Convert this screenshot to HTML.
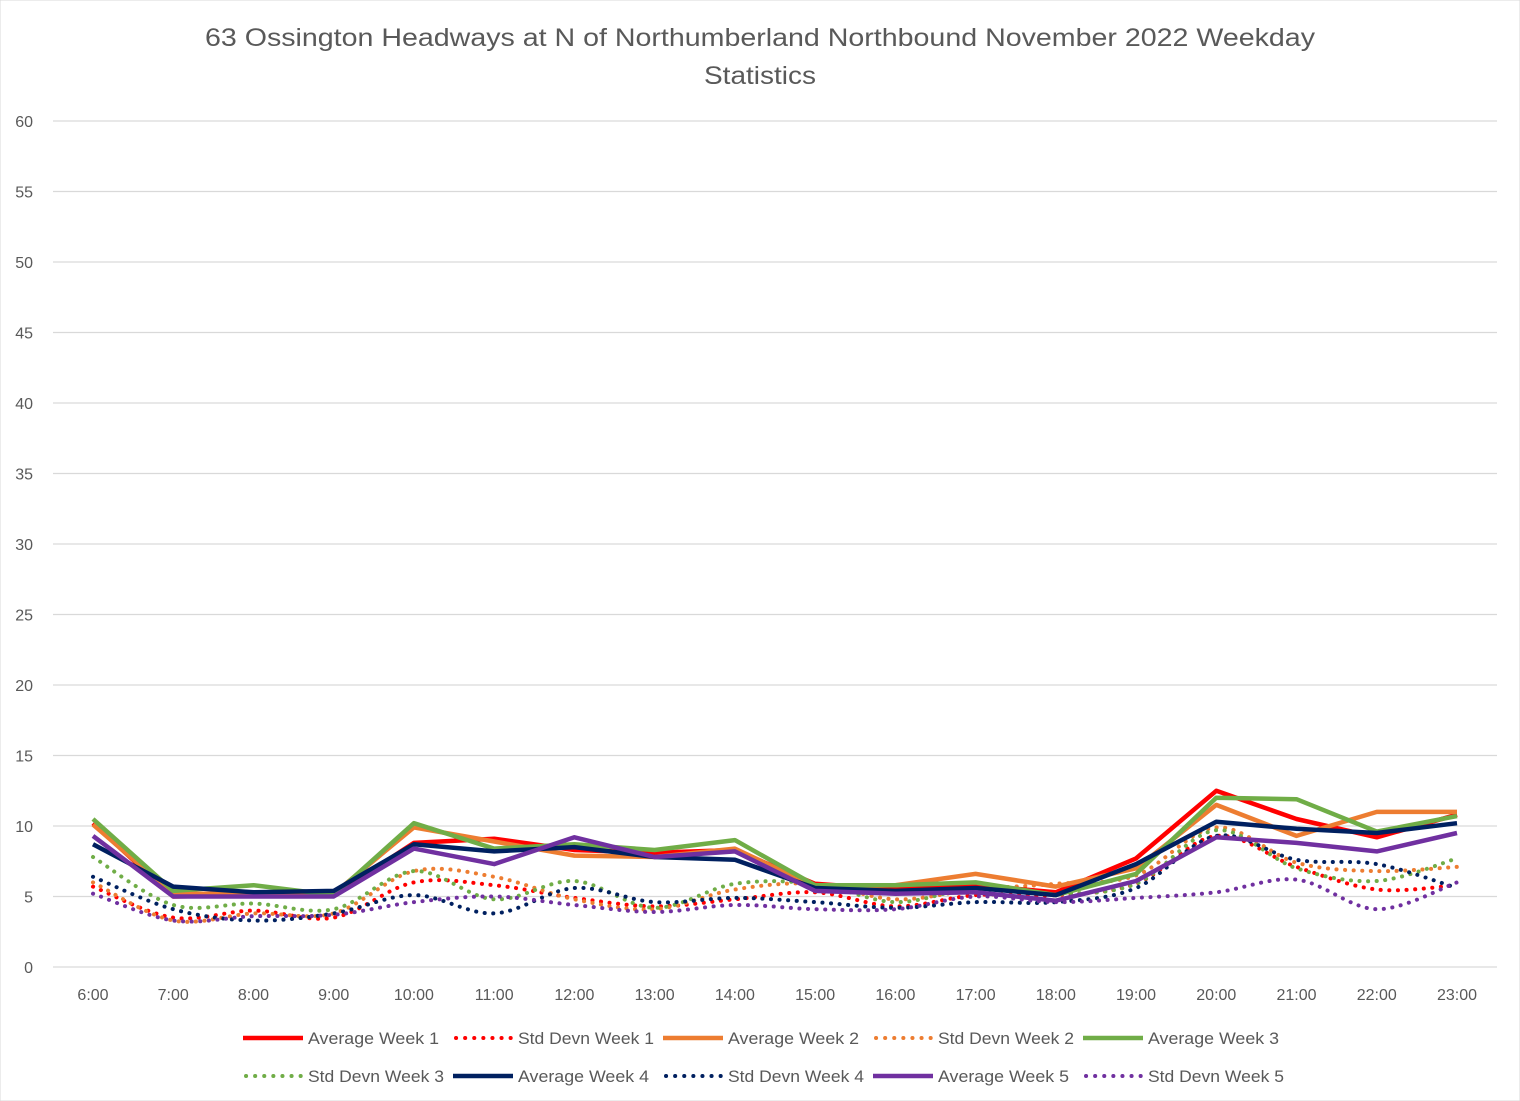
<!DOCTYPE html>
<html><head><meta charset="utf-8"><style>
html,body{margin:0;padding:0;background:#fff;}
svg{display:block;font-family:"Liberation Sans",sans-serif;}
</style></head><body>
<svg id="chart" width="1520" height="1101" viewBox="0 0 1520 1101">
<rect x="0" y="0" width="1520" height="1101" fill="#fff" stroke="#d9d9d9"/>
<text x="760" y="46" text-anchor="middle" font-size="25" fill="#595959" textLength="1110" lengthAdjust="spacingAndGlyphs">63 Ossington Headways at N of Northumberland Northbound November 2022 Weekday</text>
<text x="760" y="84" text-anchor="middle" font-size="25" fill="#595959" textLength="112" lengthAdjust="spacingAndGlyphs">Statistics</text>
<g id="grid"></g><g id="series"></g><g id="legend"></g>
</svg>
<script>
const categories=["6:00","7:00","8:00","9:00","10:00","11:00","12:00","13:00","14:00","15:00","16:00","17:00","18:00","19:00","20:00","21:00","22:00","23:00"];
const yTicks=[0,5,10,15,20,25,30,35,40,45,50,55,60];
const avgW1=[10.2,5.0,5.1,5.1,8.8,9.1,8.3,8.1,8.3,5.9,5.5,5.8,5.3,7.7,12.5,10.5,9.2,10.8];
const sdW1=[5.7,3.5,4.0,3.5,6.0,5.8,4.9,4.3,4.8,5.3,4.3,5.1,5.1,5.9,9.3,7.1,5.5,5.8];
const avgW2=[10.1,5.2,5.2,5.2,9.9,8.9,7.9,7.8,8.4,5.7,5.8,6.6,5.7,7.0,11.5,9.3,11.0,11.0];
const sdW2=[6.0,3.3,3.8,3.8,6.8,6.4,4.8,4.1,5.5,5.9,4.8,5.5,5.9,6.5,9.9,7.4,6.8,7.1];
const avgW3=[10.5,5.4,5.8,5.1,10.2,8.4,8.7,8.3,9.0,5.8,5.8,6.0,5.1,6.6,12.0,11.9,9.6,10.7];
const sdW3=[7.8,4.4,4.5,4.1,6.8,4.8,6.1,4.2,5.9,5.9,4.6,5.6,5.2,5.9,9.7,7.0,6.1,7.7];
const avgW4=[8.7,5.7,5.3,5.4,8.7,8.2,8.5,7.8,7.6,5.6,5.4,5.6,5.1,7.3,10.3,9.8,9.5,10.2];
const sdW4=[6.4,4.1,3.3,3.8,5.1,3.8,5.6,4.6,4.9,4.6,4.2,4.6,4.6,5.6,9.3,7.6,7.3,5.6];
const avgW5=[9.3,5.0,5.0,5.0,8.4,7.3,9.2,7.8,8.2,5.4,5.2,5.3,4.7,6.1,9.2,8.8,8.2,9.5];
const sdW5=[5.2,3.3,3.6,3.7,4.6,5.0,4.4,3.9,4.4,4.1,4.1,5.0,4.6,4.9,5.3,6.2,4.1,6.0];
const seriesNames=["Average Week 1","Std Devn Week 1","Average Week 2","Std Devn Week 2","Average Week 3","Std Devn Week 3","Average Week 4","Std Devn Week 4","Average Week 5","Std Devn Week 5"];

const NS="http://www.w3.org/2000/svg";
const X0=93,X1=1457,Y0=967,Y1=121,YMAX=60;
const xPos=i=>X0+(X1-X0)*i/(categories.length-1);
const yPos=v=>Y0-(Y0-Y1)*v/YMAX;
function mk(tag,attrs,parent){const e=document.createElementNS(NS,tag);for(const k in attrs)e.setAttribute(k,attrs[k]);parent.appendChild(e);return e;}
const grid=document.getElementById('grid');
yTicks.forEach(t=>{
  const l=mk('line',{x1:53,x2:1497,y1:yPos(t),y2:yPos(t),stroke:'#d9d9d9','stroke-width':1.3},grid);
  
  
  const tx=mk('text',{x:33,y:yPos(t)+6,'text-anchor':'end','font-size':16,fill:'#595959'},grid);
  tx.textContent=t;
  
  
});
categories.forEach((c,i)=>{
  const tx=mk('text',{x:xPos(i),y:1000,'text-anchor':'middle','font-size':16,fill:'#595959'},grid);
  tx.textContent=c;
  
  
});
function linePath(d){return d.map((v,i)=>(i?'L':'M')+xPos(i).toFixed(1)+','+yPos(v).toFixed(1)).join(' ');}
function smoothPath(d){
  const p=d.map((v,i)=>[xPos(i),yPos(v)]);let s='M'+p[0][0]+','+p[0][1];
  for(let i=0;i<p.length-1;i++){const a=p[i-1]||p[i],b=p[i],c=p[i+1],e=p[i+2]||c;
    const c1=[b[0]+(c[0]-a[0])/6,b[1]+(c[1]-a[1])/6],c2=[c[0]-(e[0]-b[0])/6,c[1]-(e[1]-b[1])/6];
    s+=` C${c1[0].toFixed(1)},${c1[1].toFixed(1)} ${c2[0].toFixed(1)},${c2[1].toFixed(1)} ${c[0].toFixed(1)},${c[1].toFixed(1)}`;}
  return s;}
const colors=["#ff0000","#ed7d31","#70ad47","#002060","#7030a0"];
const avgs=[avgW1,avgW2,avgW3,avgW4,avgW5],sds=[sdW1,sdW2,sdW3,sdW4,sdW5];
const sg=document.getElementById('series');
for(let w=0;w<5;w++){
  const p=mk('path',{d:smoothPath(sds[w]),fill:'none',stroke:colors[w],'stroke-width':4,'stroke-dasharray':'0.1 8.5','stroke-linecap':'round'},sg);
  
  
}
for(let w=0;w<5;w++){
  const p=mk('path',{d:linePath(avgs[w]),fill:'none',stroke:colors[w],'stroke-width':4.5,'stroke-linejoin':'round'},sg);
  
  
}
const lg=document.getElementById('legend');
seriesNames.forEach((n,k)=>{
  const row=Math.floor(k/5),col=k%5,x=243+col*210,y=row?1076:1038,w=Math.floor(k/2),dotted=k%2===1;
  const g=mk('g',{},lg);
  
  
  if(dotted)mk('line',{x1:x+3,x2:x+58,y1:y,y2:y,stroke:colors[w],'stroke-width':4,'stroke-dasharray':'0.1 9','stroke-linecap':'round'},g);
  else mk('line',{x1:x,x2:x+60,y1:y,y2:y,stroke:colors[w],'stroke-width':4.5},g);
  const t=mk('text',{x:x+65,y:y+6,'font-size':17,fill:'#595959',textLength:dotted?136:131,lengthAdjust:'spacingAndGlyphs'},g);
  t.textContent=n;
});
</script>
</body></html>
